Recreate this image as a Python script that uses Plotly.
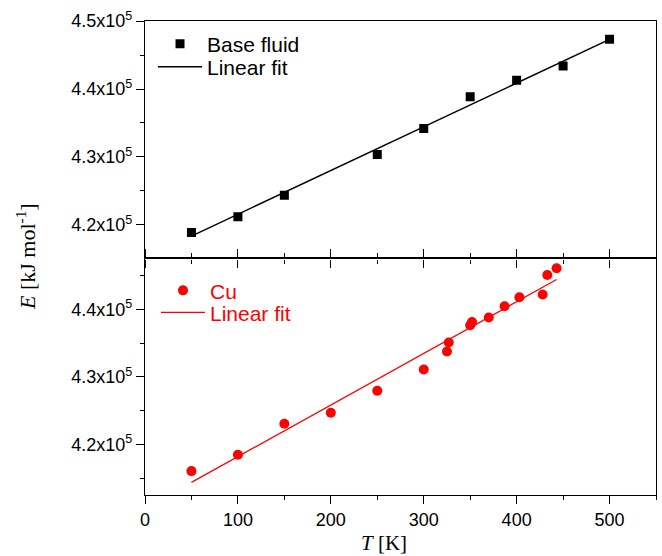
import plotly.graph_objects as go

# ---- data ----
T_base = [50, 100, 150, 250, 300, 350, 400, 450, 500]
E_base = [4.1888e5, 4.2118e5, 4.2437e5, 4.3035e5, 4.3418e5, 4.3887e5, 4.4128e5, 4.4338e5, 4.4731e5]
T_base_fit = [50, 500]
E_base_fit = [4.1834e5, 4.4730e5]

T_cu = [50, 100, 150, 200, 250, 300, 325, 327, 350, 352, 370, 387, 403, 428, 433, 443]
E_cu = [4.1604e5, 4.1846e5, 4.2305e5, 4.2468e5, 4.2794e5, 4.3110e5, 4.3376e5, 4.3510e5,
        4.3766e5, 4.3815e5, 4.3880e5, 4.4047e5, 4.4180e5, 4.4222e5, 4.4510e5, 4.4610e5]
T_cu_fit = [50, 443]
E_cu_fit = [4.1437e5, 4.4444e5]

x_ticks = [0, 100, 200, 300, 400, 500]
x_minor = [50, 150, 250, 350, 450, 550]
y_top_ticks = [4.2e5, 4.3e5, 4.4e5, 4.5e5]
y_top_labels = ["4.2x10<sup>5</sup>", "4.3x10<sup>5</sup>", "4.4x10<sup>5</sup>", "4.5x10<sup>5</sup>"]
y_top_minor = [4.15e5, 4.25e5, 4.35e5, 4.45e5]
y_bot_ticks = [4.2e5, 4.3e5, 4.4e5]
y_bot_labels = ["4.2x10<sup>5</sup>", "4.3x10<sup>5</sup>", "4.4x10<sup>5</sup>"]
y_bot_minor = [4.15e5, 4.25e5, 4.35e5, 4.45e5]

SANS = "Liberation Sans, Arial, sans-serif"
SERIF = "Liberation Serif, Times New Roman, serif"
RED = "#ff0000"

fig = go.Figure()

fig.add_trace(go.Scatter(x=T_base, y=E_base, mode="markers", name="Base fluid",
                         marker=dict(symbol="square", size=9, color="black"),
                         xaxis="x2", yaxis="y2", legend="legend"))
fig.add_trace(go.Scatter(x=T_base_fit, y=E_base_fit, mode="lines", name="Linear fit",
                         line=dict(color="black", width=1.5),
                         xaxis="x2", yaxis="y2", legend="legend2"))
fig.add_trace(go.Scatter(x=T_cu, y=E_cu, mode="markers", name="Cu",
                         marker=dict(symbol="circle", size=10, color=RED),
                         xaxis="x", yaxis="y", legend="legend3"))
fig.add_trace(go.Scatter(x=T_cu_fit, y=E_cu_fit, mode="lines", name="Linear fit",
                         line=dict(color=RED, width=1.3),
                         xaxis="x", yaxis="y", legend="legend4"))

axis_common = dict(showline=True, linecolor="black", linewidth=1.3, showgrid=False,
                   zeroline=False, tickcolor="black", tickwidth=1.3)
tickfont = dict(family=SANS, size=18, color="black")


def leg(x, y, color):
    return dict(x=x, y=y, xanchor="left", yanchor="middle",
                bgcolor="rgba(0,0,0,0)", borderwidth=0, itemwidth=44,
                font=dict(family=SANS, size=21, color=color))


split = 0.499
fig.update_layout(
    width=662, height=556,
    margin=dict(l=145, r=6, t=21, b=61),
    plot_bgcolor="white", paper_bgcolor="white",
    showlegend=True,
    xaxis=dict(**axis_common, domain=[0, 1], range=[0, 550], anchor="y",
               tickmode="array", tickvals=x_ticks, ticks="outside", ticklen=8,
               mirror="ticks", tickfont=tickfont,
               minor=dict(tickmode="array", tickvals=x_minor, ticks="outside",
                          ticklen=4, tickcolor="black", tickwidth=1.3)),
    xaxis3=dict(overlaying="x", matches="x", anchor="y", range=[0, 550],
                showline=False, showgrid=False, zeroline=False, showticklabels=False,
                tickmode="array", tickvals=x_ticks, ticks="inside", ticklen=8,
                tickcolor="black", tickwidth=1.3,
                minor=dict(tickmode="array", tickvals=x_minor, ticks="inside",
                           ticklen=4, tickcolor="black", tickwidth=1.3)),
    xaxis2=dict(**axis_common, domain=[0, 1], range=[0, 550], anchor="y2",
                tickmode="array", tickvals=x_ticks, ticks="outside", ticklen=8,
                mirror=True, showticklabels=False,
                minor=dict(tickmode="array", tickvals=x_minor, ticks="outside",
                           ticklen=4, tickcolor="black", tickwidth=1.3)),
    yaxis=dict(**axis_common, domain=[0, split], range=[4.125e5, 4.4756e5], anchor="x",
               tickmode="array", tickvals=y_bot_ticks, ticktext=y_bot_labels,
               ticks="outside", ticklen=8, mirror=True, tickfont=tickfont,
               minor=dict(tickmode="array", tickvals=y_bot_minor, ticks="outside",
                          ticklen=4, tickcolor="black", tickwidth=1.3)),
    yaxis2=dict(**axis_common, domain=[split, 1], range=[4.1505e5, 4.5001e5], anchor="x2",
                tickmode="array", tickvals=y_top_ticks, ticktext=y_top_labels,
                ticks="outside", ticklen=8, mirror=True, tickfont=tickfont,
                minor=dict(tickmode="array", tickvals=y_top_minor, ticks="outside",
                           ticklen=4, tickcolor="black", tickwidth=1.3)),
    legend=leg(0.0157, 0.9515, "black"),
    legend2=leg(0.0157, 0.903, "black"),
    legend3=leg(0.0215, 0.431, RED),
    legend4=leg(0.0215, 0.3846, RED),
    annotations=[
        dict(text="<i>E</i> [kJ mol<sup>-1</sup>]", textangle=-90,
             xref="paper", yref="paper", x=-0.233, y=0.504,
             xanchor="center", yanchor="middle", showarrow=False,
             font=dict(family=SERIF, size=22, color="black")),
        dict(text="<i>T</i> [K]", xref="paper", yref="paper", x=0.468, y=-0.101,
             xanchor="center", yanchor="middle", showarrow=False,
             font=dict(family=SERIF, size=21, color="black")),
    ],
)

fig.write_html("out.html", config={"displayModeBar": False},
               post_script="document.body.style.margin='0px';")
